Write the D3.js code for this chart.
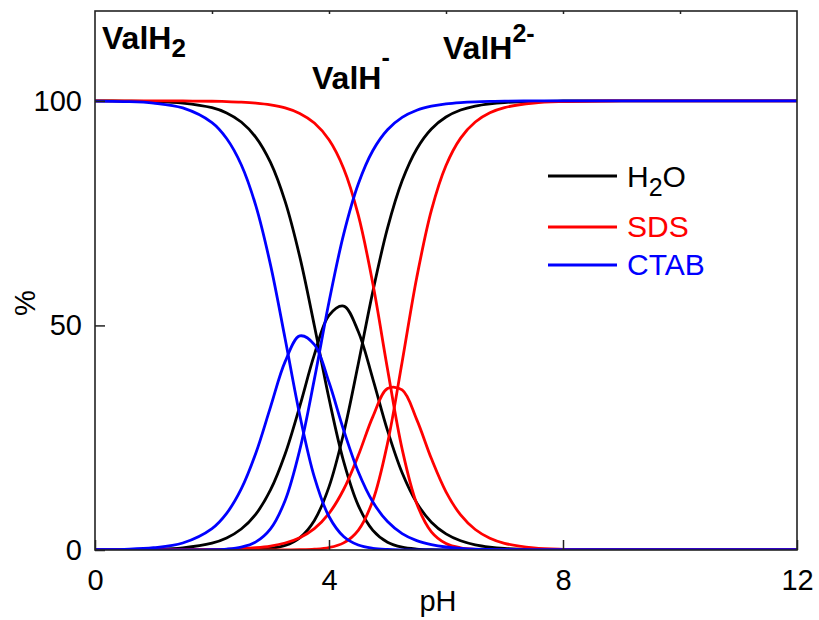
<!DOCTYPE html>
<html>
<head>
<meta charset="utf-8">
<script src="https://cdn.jsdelivr.net/npm/d3@7"></script>
<style>
  body { margin: 0; background: #fff; }
  text { font-family: "Liberation Sans", Arial, sans-serif; }
</style>
</head>
<body>
<script>
const W = 819, H = 620;
const margin = {top: 11, right: 22, bottom: 70, left: 95};

// pH grid used for every curve
const pH = [0, 0.5, 1, 1.5, 2, 2.25, 2.5, 2.75, 3, 3.25, 3.5, 3.75, 4, 4.25, 4.5, 4.75,
            5, 5.25, 5.5, 5.75, 6, 6.25, 6.5, 6.75, 7, 7.5, 8, 9, 10, 11, 12];

// species distribution (%)
const h2o_H2 = [100, 99.95, 99.85, 99.5, 98.47, 97.31, 95.29, 91.88, 86.28, 77.6, 65.3, 49.93, 33.72, 19.72, 9.93, 4.37,
                1.72, 0.62, 0.21, 0.07, 0.02, 0, 0, 0, 0, 0, 0, 0, 0, 0, 0];
const h2o_H = [0, 0.05, 0.15, 0.49, 1.53, 2.68, 4.67, 8.0, 13.36, 21.37, 31.98, 43.49, 52.23, 54.3, 48.65, 38.05,
               26.62, 17.18, 10.49, 6.19, 3.58, 2.05, 1.16, 0.66, 0.37, 0.12, 0.04, 0, 0, 0, 0];
const h2o_2 = [0, 0, 0, 0, 0, 0.01, 0.04, 0.12, 0.36, 1.02, 2.72, 6.58, 14.06, 25.99, 41.41, 57.58,
               71.66, 82.2, 89.29, 93.74, 96.4, 97.95, 98.84, 99.34, 99.63, 99.88, 99.96, 100, 100, 100, 100];

const sds_H2 = [100, 100, 99.99, 99.97, 99.91, 99.84, 99.72, 99.5, 99.11, 98.42, 97.2, 95.06, 91.32, 84.95, 74.59, 59.26,
                40.32, 22.49, 10.3, 4.06, 1.45, 0.49, 0.16, 0.05, 0.01, 0, 0, 0, 0, 0, 0];
const sds_H = [0, 0, 0.01, 0.03, 0.09, 0.16, 0.28, 0.5, 0.88, 1.56, 2.74, 4.76, 8.14, 13.47, 21.02, 29.7,
               35.94, 35.64, 29.03, 20.35, 12.96, 7.81, 4.56, 2.62, 1.49, 0.48, 0.15, 0.02, 0, 0, 0];
const sds_2 = [0, 0, 0, 0, 0, 0, 0, 0, 0.01, 0.02, 0.06, 0.18, 0.54, 1.58, 4.39, 11.03,
               23.74, 41.87, 60.66, 75.6, 85.59, 91.7, 95.28, 97.33, 98.49, 99.52, 99.85, 99.98, 100, 100, 100];

const ctab_H2 = [99.95, 99.84, 99.5, 98.43, 95.16, 91.62, 85.77, 76.61, 63.48, 47.04, 30.06, 16.23, 7.45, 3.0, 1.1, 0.38,
                 0.13, 0.04, 0.01, 0, 0, 0, 0, 0, 0, 0, 0, 0, 0, 0, 0];
const ctab_H = [0.05, 0.16, 0.5, 1.56, 4.77, 8.16, 13.59, 21.59, 31.82, 41.93, 47.65, 45.73, 37.33, 26.72, 17.42, 10.69,
                6.33, 3.66, 2.09, 1.19, 0.67, 0.38, 0.21, 0.12, 0.07, 0.02, 0.01, 0, 0, 0, 0];
const ctab_2 = [0, 0, 0, 0.01, 0.07, 0.21, 0.64, 1.8, 4.7, 11.03, 22.29, 38.04, 55.22, 70.28, 81.48, 88.93,
                93.55, 96.3, 97.9, 98.81, 99.33, 99.62, 99.79, 99.88, 99.93, 99.98, 99.99, 100, 100, 100, 100];

const media = ["H2O", "SDS", "CTAB"];
const colors = ["#000000", "#ff0000", "#0000ff"];
const curves = [[h2o_H2, h2o_H, h2o_2], [sds_H2, sds_H, sds_2], [ctab_H2, ctab_H, ctab_2]];

const xTicks = [0, 4, 8, 12];
const xTopTicks = [2, 4, 6, 8, 10];
const yTicks = [0, 50, 100];

const svg = d3.select('body').append('svg')
    .attr('width', W)
    .attr('height', H);

svg.append('rect').attr('width', W).attr('height', H).attr('fill', '#fff');

const x = d3.scaleLinear().domain([0, 12]).range([margin.left, W - margin.right]);
const y = d3.scaleLinear().domain([0, 120]).range([H - margin.bottom, margin.top]);

svg.append('clipPath').attr('id', 'clip')
  .append('rect')
    .attr('x', x(0)).attr('y', y(120))
    .attr('width', x(12) - x(0)).attr('height', y(0) - y(120));

const line = d3.line()
    .x((d, i) => x(pH[i]))
    .y(d => y(d))
    .curve(d3.curveCatmullRom);

const plot = svg.append('g').attr('clip-path', 'url(#clip)');

curves.forEach((set, m) => {
  plot.selectAll(null).data(set).join('path')
      .attr('d', line)
      .attr('fill', 'none')
      .attr('stroke', colors[m])
      .attr('stroke-width', 2.8);
});

// axes
const fontSize = 29;

const gx = svg.append('g')
    .attr('transform', `translate(0,${y(0)})`)
    .call(d3.axisBottom(x).tickValues(xTicks).tickSizeInner(-10).tickSizeOuter(0).tickPadding(19));

const gxTop = svg.append('g')
    .attr('transform', `translate(0,${y(120)})`)
    .call(d3.axisTop(x).tickValues(xTopTicks).tickSizeInner(-3).tickSizeOuter(0).tickFormat(''));

const gy = svg.append('g')
    .attr('transform', `translate(${x(0)},0)`)
    .call(d3.axisLeft(y).tickValues(yTicks).tickSizeInner(-10).tickSizeOuter(0).tickPadding(13));

[gx, gxTop, gy].forEach(g => {
  g.select('.domain').remove();
  g.selectAll('line').attr('stroke', '#222').attr('stroke-width', 1.5);
  g.selectAll('text')
      .attr('fill', '#000')
      .style('font-size', fontSize + 'px')
      .style('font-family', '"Liberation Sans", Arial, sans-serif');
});

svg.append('rect')
    .attr('x', x(0)).attr('y', y(120))
    .attr('width', x(12) - x(0)).attr('height', y(0) - y(120))
    .attr('fill', 'none')
    .attr('stroke', '#222')
    .attr('stroke-width', 1.6);

svg.append('text')
    .attr('x', 438)
    .attr('y', 611)
    .attr('text-anchor', 'middle')
    .style('font-size', '29px')
    .text('pH');

svg.append('text')
    .attr('transform', 'translate(35,303) rotate(-90)')
    .attr('text-anchor', 'middle')
    .style('font-size', '29px')
    .text('%');

// species labels
const lab1 = svg.append('text').attr('x', 102).attr('y', 49)
    .style('font-size', '32px').style('font-weight', 'bold');
lab1.append('tspan').text('ValH');
lab1.append('tspan').attr('dy', 8).style('font-size', '26px').text('2');

const lab2 = svg.append('text').attr('x', 312).attr('y', 89)
    .style('font-size', '32px').style('font-weight', 'bold');
lab2.append('tspan').text('ValH');
lab2.append('tspan').attr('dy', -23).style('font-size', '25px').text('-');

const lab3 = svg.append('text').attr('x', 443).attr('y', 59)
    .style('font-size', '32px').style('font-weight', 'bold');
lab3.append('tspan').text('ValH');
lab3.append('tspan').attr('dy', -17).style('font-size', '25px').text('2-');

// legend
const legY = [176, 227, 265];
const leg = svg.append('g');
media.forEach((name, i) => {
  leg.append('line')
      .attr('x1', 548).attr('x2', 617)
      .attr('y1', legY[i]).attr('y2', legY[i])
      .attr('stroke', colors[i]).attr('stroke-width', 2.8);
  const t = leg.append('text')
      .attr('x', 627).attr('y', legY[i] + 10)
      .attr('fill', colors[i])
      .style('font-size', '30px');
  if (name === 'H2O') {
    t.attr('y', legY[i] + 11);
    t.append('tspan').text('H');
    t.append('tspan').attr('dy', 9).style('font-size', '25px').text('2');
    t.append('tspan').attr('dy', -9).text('O');
  } else {
    t.text(name);
  }
});
</script>
</body>
</html>
